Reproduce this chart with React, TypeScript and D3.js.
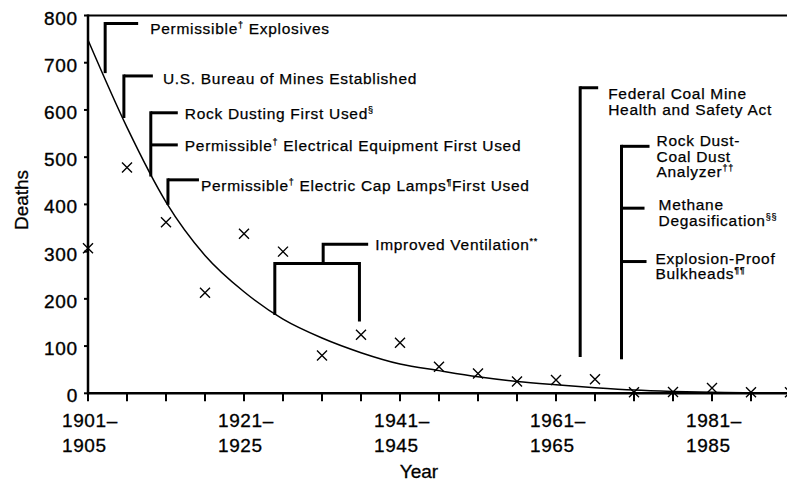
import * as d3 from "d3";

// five-year periods, 1901-1905 through 1991-1995
const periods = [
  "1901–1905", "1906–1910", "1911–1915", "1916–1920", "1921–1925",
  "1926–1930", "1931–1935", "1936–1940", "1941–1945", "1946–1950",
  "1951–1955", "1956–1960", "1961–1965", "1966–1970", "1971–1975",
  "1976–1980", "1981–1985", "1986–1990", "1991–1995",
];

// explosion deaths per period (x marks)
const deaths = [307, 478, 362, 213, 338, 300, 80, 124, 107, 56, 42, 25, 28, 30, 2, 3, 11, 2, 2];

// fitted trend curve
const trend = [748, 563, 405, 292, 215, 157, 117, 86, 62, 48, 35, 25, 18, 12, 7, 4, 2, 1, 1];

const yTicks = [0, 100, 200, 300, 400, 500, 600, 700, 800];
const labelledPeriods = [0, 4, 8, 12, 16];

const W = 787;
const H = 483;
const FONT = "'Liberation Sans', Arial, Helvetica, sans-serif";

const x = d3.scaleLinear().domain([0, 18]).range([88, 790]);
const y = d3.scaleLinear().domain([0, 800]).range([393.3, 15.5]);

// text parts alternate: normal, superscript, normal, ...
type Arm = { at: number; len: number; dx: number; lines: { dy: number; parts: string[] }[] };
type Bracket = { pos: number; top: number; bottom: number; arms: Arm[] };

const brackets: Bracket[] = [
  {
    pos: 0.44, top: 783, bottom: 678,
    arms: [{ at: 783, len: 33, dx: 12, lines: [{ dy: 10, parts: ["Permissible", "†", " Explosives"] }] }],
  },
  {
    pos: 0.92, top: 672, bottom: 583,
    arms: [{ at: 672, len: 29, dx: 10, lines: [{ dy: 8, parts: ["U.S. Bureau of Mines Established"] }] }],
  },
  {
    pos: 1.61, top: 594, bottom: 459,
    arms: [
      { at: 594, len: 27, dx: 7, lines: [{ dy: 6, parts: ["Rock Dusting First Used", "§"] }] },
      { at: 526, len: 27, dx: 7, lines: [{ dy: 6, parts: ["Permissible", "†", " Electrical Equipment First Used"] }] },
    ],
  },
  {
    pos: 2.05, top: 452, bottom: 399,
    arms: [{ at: 452, len: 31, dx: 2, lines: [{ dy: 11, parts: ["Permissible", "†", " Electric Cap Lamps", "¶", "First Used"] }] }],
  },
  {
    pos: 12.62, top: 647, bottom: 77,
    arms: [{
      at: 647, len: 18, dx: 10, lines: [
        { dy: 11, parts: ["Federal Coal Mine"] },
        { dy: 27.5, parts: ["Health and Safety Act"] },
      ],
    }],
  },
  {
    pos: 13.68, top: 523, bottom: 72,
    arms: [
      {
        at: 523, len: 28, dx: 7, lines: [
          { dy: 0, parts: ["Rock Dust-"] },
          { dy: 15.5, parts: ["Coal Dust"] },
          { dy: 31, parts: ["Analyzer", "††"] },
        ],
      },
      {
        at: 392, len: 23, dx: 14, lines: [
          { dy: 2, parts: ["Methane"] },
          { dy: 18, parts: ["Degasification", "§§"] },
        ],
      },
      {
        at: 279, len: 25, dx: 9, lines: [
          { dy: 2, parts: ["Explosion-Proof"] },
          { dy: 17.5, parts: ["Bulkheads", "¶¶"] },
        ],
      },
    ],
  },
];

// improved ventilation spans two periods
const vent = { from: 4.79, to: 6.96, at: 275, leftBottom: 166, rightBottom: 152, stem: 6.03, stemTop: 315.5, len: 45 };

function Rich({ px, py, parts, size }: { px: number; py: number; parts: string[]; size: number }) {
  return (
    <text
      x={px}
      y={py}
      fontSize={size}
      fontFamily={FONT}
      letterSpacing={0.7}
      fill="#000"
      stroke="#000"
      strokeWidth={0.25}
    >
      {parts.map((p, i) =>
        i % 2 === 1 ? (
          <tspan key={i} fontSize={9} dy={-6}>{p}</tspan>
        ) : (
          <tspan key={i} dy={i === 0 ? 0 : 6}>{p}</tspan>
        )
      )}
    </text>
  );
}

export default function App() {
  const trendPath =
    d3
      .line<number>()
      .x((_, i) => x(i))
      .y((d) => y(d))
      .curve(d3.curveMonotoneX)(trend) ?? "";

  const stroke = 3;

  return (
    <svg
      width={W}
      height={H}
      viewBox={`0 0 ${W} ${H}`}
      style={{ position: "absolute", left: 0, top: 0, background: "#fff" }}
    >
      {/* frame */}
      <line x1={x(0)} x2={W} y1={y(800)} y2={y(800)} stroke="#000" strokeWidth={2} />
      <line x1={x(0)} x2={x(0)} y1={y(800) - 1} y2={y(0) + 1} stroke="#000" strokeWidth={2.5} />
      <line x1={x(0)} x2={W} y1={y(0)} y2={y(0)} stroke="#000" strokeWidth={2.5} />

      {yTicks.map((t) => (
        <g key={t}>
          <line x1={x(0) - 4} x2={x(0)} y1={y(t)} y2={y(t)} stroke="#000" strokeWidth={2} />
          <text
            x={78}
            y={y(t) + 9}
            textAnchor="end"
            fontSize={19}
            letterSpacing={0.8}
            fontFamily={FONT}
            stroke="#000"
            strokeWidth={0.35}
          >
            {t}
          </text>
        </g>
      ))}

      {periods.map((p, i) => (
        <line key={p} x1={x(i)} x2={x(i)} y1={y(0)} y2={y(0) + 8} stroke="#000" strokeWidth={2} />
      ))}

      {labelledPeriods.map((i) => {
        const [a, b] = periods[i].split("–");
        return (
          <text
            key={i}
            x={x(i) - 26}
            fontSize={19}
            fontFamily={FONT}
            letterSpacing={0.6}
            stroke="#000"
            strokeWidth={0.3}
          >
            <tspan x={x(i) - 26} y={426.5}>{a}–</tspan>
            <tspan x={x(i) - 26} y={451.5}>{b}</tspan>
          </text>
        );
      })}

      <text
        transform="translate(28,200) rotate(-90)"
        textAnchor="middle"
        fontSize={19}
        fontFamily={FONT}
        stroke="#000"
        strokeWidth={0.3}
      >
        Deaths
      </text>
      <text
        x={419}
        y={478}
        textAnchor="middle"
        fontSize={19}
        fontFamily={FONT}
        stroke="#000"
        strokeWidth={0.3}
      >
        Year
      </text>

      {/* trend curve */}
      <path d={trendPath} fill="none" stroke="#000" strokeWidth={1.5} />

      {/* observed values */}
      {deaths.map((d, i) => (
        <path
          key={i}
          d={`M${x(i) - 5},${y(d) - 5}L${x(i) + 5},${y(d) + 5}M${x(i) - 5},${y(d) + 5}L${x(i) + 5},${y(d) - 5}`}
          stroke="#000"
          strokeWidth={1.4}
          fill="none"
        />
      ))}

      {/* regulatory milestones */}
      {brackets.map((b, bi) => (
        <g key={bi}>
          <line
            x1={x(b.pos)}
            x2={x(b.pos)}
            y1={y(b.top) - stroke / 2}
            y2={y(b.bottom)}
            stroke="#000"
            strokeWidth={stroke}
          />
          {b.arms.map((a, ai) => (
            <g key={ai}>
              <line
                x1={x(b.pos)}
                x2={x(b.pos) + a.len}
                y1={y(a.at)}
                y2={y(a.at)}
                stroke="#000"
                strokeWidth={stroke}
              />
              {a.lines.map((l, li) => (
                <Rich
                  key={li}
                  px={x(b.pos) + a.len + a.dx}
                  py={y(a.at) + l.dy}
                  parts={l.parts}
                  size={15.5}
                />
              ))}
            </g>
          ))}
        </g>
      ))}

      <g stroke="#000" strokeWidth={stroke} fill="none">
        <path
          d={`M${x(vent.from)},${y(vent.leftBottom)}V${y(vent.at)}H${x(vent.to)}V${y(vent.rightBottom)}`}
        />
        <path
          d={`M${x(vent.stem)},${y(vent.at)}V${y(vent.stemTop)}H${x(vent.stem) + vent.len}`}
        />
      </g>
      <Rich
        px={x(vent.stem) + vent.len + 7}
        py={y(vent.stemTop) + 6}
        parts={["Improved Ventilation", "**"]}
        size={15.5}
      />
    </svg>
  );
}
